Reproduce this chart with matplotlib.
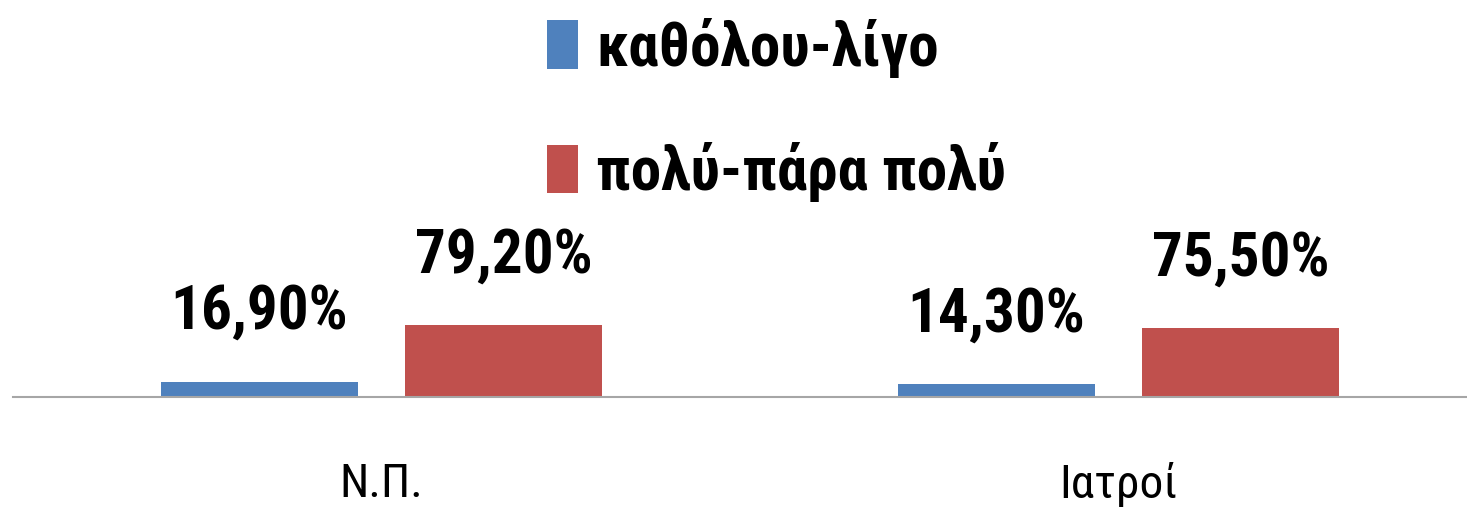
import matplotlib
matplotlib.use('Agg')
import matplotlib.pyplot as plt
import numpy as np

# data
categories = ['Ν.Π.', 'Ιατροί']
series_names = ['καθόλου-λίγο', 'πολύ-πάρα πολύ']
values_low = [16.9, 14.3]
values_high = [79.2, 75.5]
colors = ['#4F81BD', '#C0504D']

plt.rcParams['font.family'] = ['Roboto Condensed', 'DejaVu Sans']

W, H = 1467, 521
fig = plt.figure(figsize=(W / 100, H / 100), dpi=100)
# axes baseline at y=397 px, spans past the right edge a little
ax = fig.add_axes([13 / W, (H - 397) / H, 1474 / W, 397 / H])

x = np.arange(len(categories))
width = 0.267
off = 0.166
b1 = ax.bar(x - off, values_low, width, color=colors[0], label=series_names[0])
b2 = ax.bar(x + off, values_high, width, color=colors[1], label=series_names[1])

for bars, vals in [(b1, values_low), (b2, values_high)]:
    for rect, v in zip(bars, vals):
        ax.annotate(f'{v:.2f}%'.replace('.', ','),
                    (rect.get_x() + rect.get_width() / 2, rect.get_height()),
                    xytext=(0, 38), textcoords='offset points',
                    ha='center', va='baseline', fontsize=44, fontweight='bold',
                    annotation_clip=False)

ax.set_xlim(-0.5, 1.5)
ax.set_ylim(0, 397 / 0.909)
ax.set_xticks(x)
ax.set_xticklabels(categories, fontsize=34)
ax.tick_params(axis='x', length=0, pad=47)
ax.set_yticks([])
for s in ['top', 'right', 'left']:
    ax.spines[s].set_visible(False)
ax.spines['bottom'].set_color('#A6A6A6')
ax.spines['bottom'].set_linewidth(1.5)

leg = fig.legend(handles=[b1, b2], loc='upper left',
                 bbox_to_anchor=(547 / W, 1 - 18 / H),
                 frameon=False, prop={'size': 44, 'weight': 'bold'},
                 handlelength=0.5, handleheight=0.85, handletextpad=0.3,
                 labelspacing=1.05, borderpad=0, borderaxespad=0)

fig.savefig('out.png', dpi=100)
